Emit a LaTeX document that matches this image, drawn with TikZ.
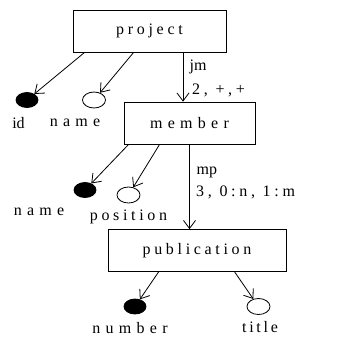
\documentclass[tikz,border=0pt]{standalone}
\usepackage{fontspec}
\setmainfont{Liberation Serif}
\newfontfamily\lslow[LetterSpace=17]{Liberation Serif}
\newfontfamily\lsmid[LetterSpace=23]{Liberation Serif}
\newfontfamily\lswide[LetterSpace=33]{Liberation Serif}
\usepackage{tikz}
\usetikzlibrary{shapes.geometric, arrows.meta, positioning, calc}

\tikzset{
  entity/.style={draw, line width=0.8pt, inner sep=0pt, minimum height=42pt, font=\fontsize{16}{18}\lsmid},
  keyattr/.style={ellipse, fill=black, draw, line width=0.8pt, minimum width=22pt, minimum height=15pt, inner sep=0pt},
  plainattr/.style={ellipse, draw, line width=0.8pt, minimum width=23pt, minimum height=16pt, inner sep=0pt},
  attrlabel/.style={font=\fontsize{16}{18}\lswide, inner sep=0pt},
  rellabel/.style={font=\fontsize{16}{18}\lsmid, inner sep=0pt, anchor=west},
  link/.style={-{Straight Barb[length=8pt,width=12pt]}, line width=0.8pt}
}

\begin{document}
\begin{tikzpicture}[x=1pt, y=-1pt]
\useasboundingbox (0,0) rectangle (359,341);
% Entities
\node[entity, minimum width=153pt] (project) at (149.5,31) {project};
\node[entity, minimum width=131pt, font=\fontsize{16}{18}\lswide] (member) at (189.5,123) {member};
\node[entity, minimum width=178pt] (publication) at (197,250.5) {publication};

% Attributes of project
\node[keyattr] (projid) at (27,100) {};
\node[plainattr] (projname) at (94,100) {};
\node[attrlabel, font=\fontsize{16}{18}\selectfont] (projidlbl) at (18.5,123) {id};
\node[attrlabel] (projnamelbl) at (75,123) {name};
\draw[link] ([xshift=12pt]project.south west) -- (projid);
\draw[link] ([xshift=61pt]project.south west) -- (projname);

% Attributes of member
\node[keyattr] (memname) at (85,190) {};
\node[plainattr] (mempos) at (128.5,195) {};
\node[attrlabel] (memnamelbl) at (39,212) {name};
\node[attrlabel, font=\fontsize{16}{18}\lsmid] (memposlbl) at (128.5,217) {position};
\draw[link] ([xshift=5pt]member.south west) -- (memname);
\draw[link] ([xshift=36pt]member.south west) -- (mempos);

% Attributes of publication
\node[keyattr] (pubnum) at (135,306.5) {};
\node[plainattr] (pubtitle) at (258.5,306.5) {};
\node[attrlabel] (pubnumlbl) at (130,328) {number};
\node[attrlabel, font=\fontsize{16}{18}\lslow] (pubtitlelbl) at (260,327) {title};
\draw[link] ([xshift=51pt]publication.south west) -- (pubnum);
\draw[link] ([xshift=127pt]publication.south west) -- (pubtitle);

% Relationships
\draw[link] ([xshift=33.5pt]project.south) -- ([xshift=33.5pt]project.south |- member.north);
\node[rellabel, font=\fontsize{16}{18}\selectfont] (jm) at (189.5,67) {jm};
\node[rellabel] (jmcard) at (192,90) {2, +,+};
\draw[link] (member.south) -- (member.south |- publication.north);
\node[rellabel, font=\fontsize{16}{18}\selectfont] (mp) at (196.5,172) {mp};
\node[rellabel] (mpcard) at (196,192) {3, 0:n, 1:m};
\end{tikzpicture}
\end{document}
